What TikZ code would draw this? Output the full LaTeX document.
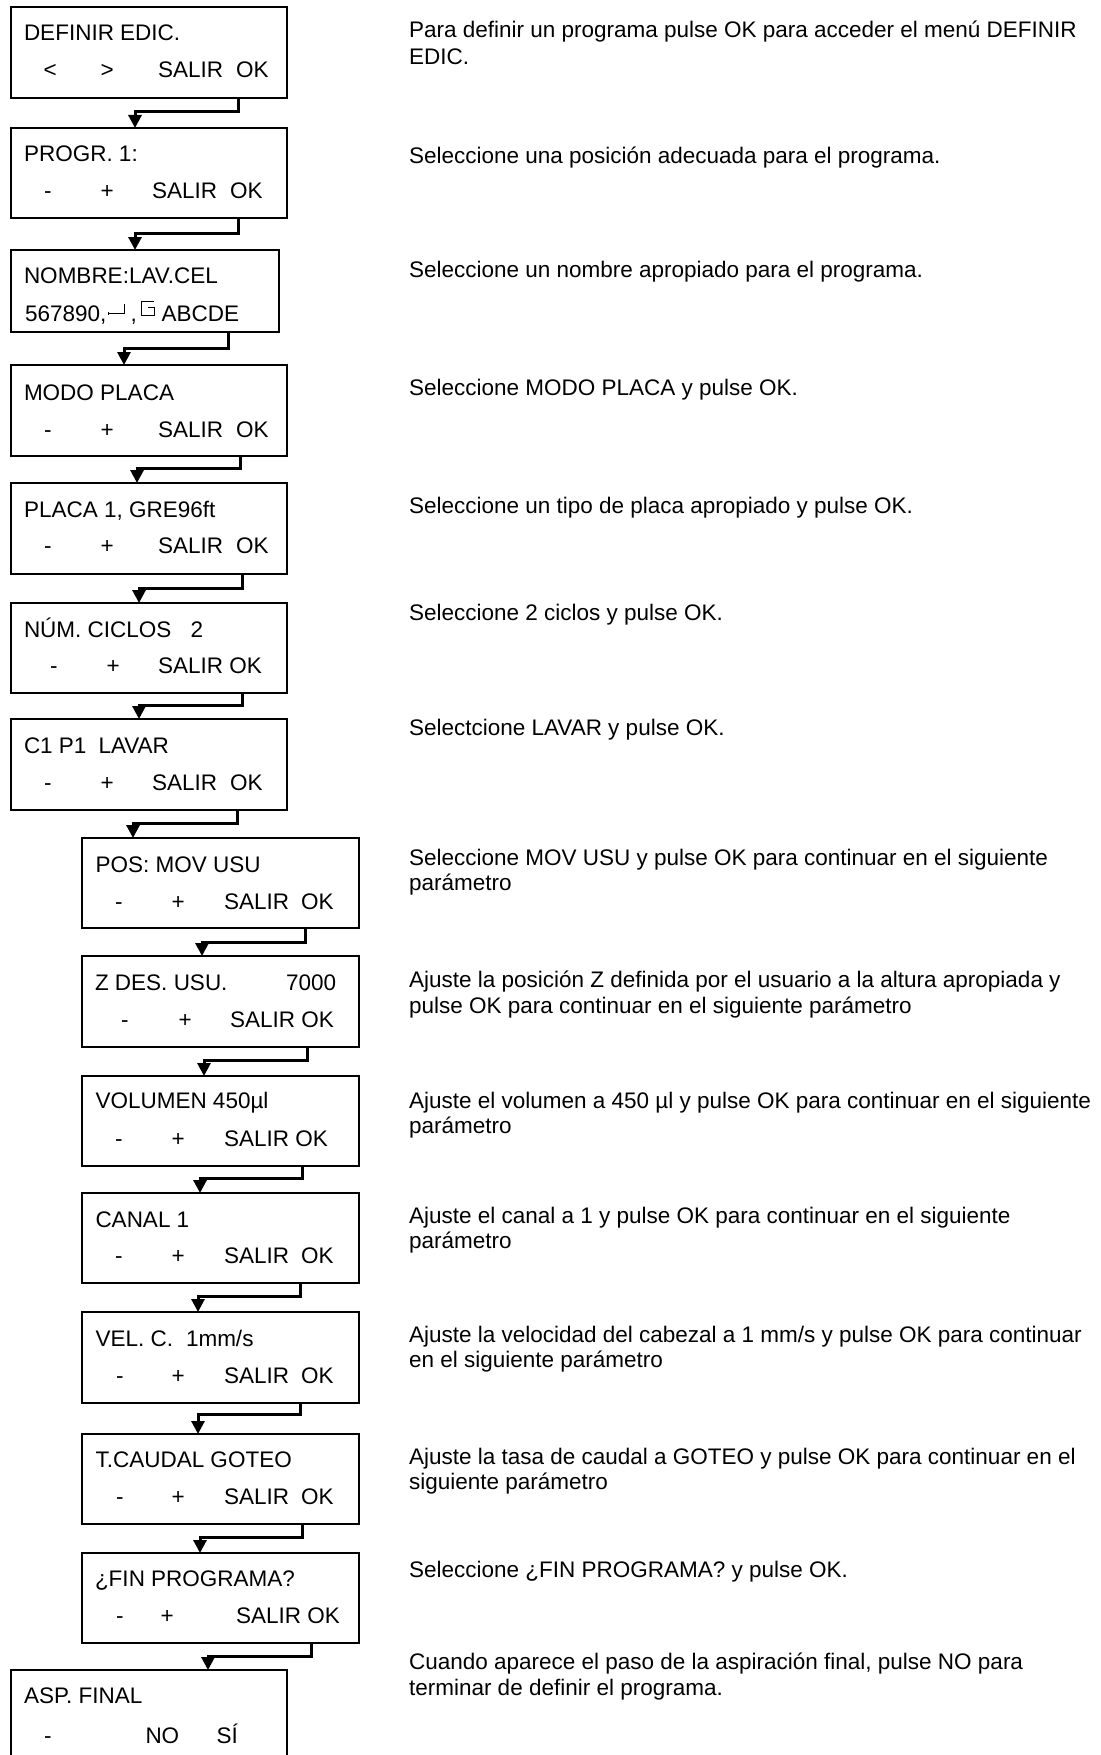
\documentclass[tikz,border=0pt]{standalone}
\usepackage{fontspec}
\setmainfont{Liberation Sans}
\usetikzlibrary{arrows.meta}
\newcommand\dfont{\fontsize{22.5pt}{26pt}\selectfont}
\begin{document}
\begin{tikzpicture}[x=1pt,y=-1pt,
  box/.style={draw=black,line width=1.2pt,rectangle,inner sep=0pt,outer sep=0pt,anchor=north west},
  wbox/.style={box,minimum width=276pt,minimum height=91pt},
  nbox/.style={box,minimum width=277pt,minimum height=90pt},
  t/.style={anchor=base west,inner sep=0pt,outer sep=0pt,font=\dfont},
  conn/.style={line width=3pt,-{Triangle[width=13pt,length=13pt]},line join=miter},
  sym/.style={line width=1pt}
]
\useasboundingbox (0,0) rectangle (1100,1755);
\clip (0,0) rectangle (1100,1755);
\fill[white] (0,0) rectangle (1100,1755);

% ---------------- boxes ----------------
\node[wbox] (b1) at (11,7) {};
\node[wbox,minimum height=90pt] (b2) at (11,128) {};
\node[box,minimum width=268pt,minimum height=82pt] (b3) at (11,250) {};
\node[wbox] (b4) at (11,365) {};
\node[wbox] (b5) at (11,483) {};
\node[wbox,minimum height=90pt] (b6) at (11,603) {};
\node[wbox] (b7) at (11,719) {};
\node[nbox] (b8) at (82,838) {};
\node[nbox,minimum height=91pt] (b9) at (82,956) {};
\node[nbox] (b10) at (82,1076) {};
\node[nbox] (b11) at (82,1193) {};
\node[nbox,minimum height=91pt] (b12) at (82,1312) {};
\node[nbox] (b13) at (82,1434) {};
\node[nbox] (b14) at (82,1553) {};
\node[wbox,minimum height=110pt] (b15) at (11,1670) {};

% ---------------- box texts ----------------
% b1
\node[t] (b1t) at (24,41) {DEFINIR EDIC.};
\node[t] (b1a) at (43.5,78) {<};
\node[t] (b1b) at (100.5,78) {>};
\node[t] (b1c) at (158,78) {SALIR};
\node[t] (b1d) at (236,78) {OK};
% b2
\node[t] (b2t) at (24,162) {PROGR. 1:};
\node[t] (b2a) at (44,198) {-};
\node[t] (b2b) at (100.5,198) {+};
\node[t] (b2c) at (152,198) {SALIR};
\node[t] (b2d) at (230,198) {OK};
% b3
\node[t] (b3t) at (24,283) {NOMBRE:LAV.CEL};
\node[t] (b3a) at (25,321) {567890,};
\draw[sym] (108,313) -- (124,313) (124,304) -- (124,314);
\draw[sym] (108.5,311.5) -- (108.5,314.5);
\node[t] (b3b) at (130.5,321) {,};
\draw[sym] (154,301) -- (141.5,301) -- (141.5,315) -- (154,315) -- (154,307.5) -- (148,307.5);
\node[t] (b3c) at (161.5,321) {ABCDE};
% b4
\node[t] (b4t) at (24,400) {MODO PLACA};
\node[t] (b4a) at (44,437) {-};
\node[t] (b4b) at (100.5,437) {+};
\node[t] (b4c) at (158,437) {SALIR};
\node[t] (b4d) at (236,437) {OK};
% b5
\node[t] (b5t) at (24,517) {PLACA 1, GRE96ft};
\node[t] (b5a) at (44,553) {-};
\node[t] (b5b) at (100.5,553) {+};
\node[t] (b5c) at (158,553) {SALIR};
\node[t] (b5d) at (236,553) {OK};
% b6
\node[t] (b6t) at (24,637) {NÚM. CICLOS};
\node[t] (b6n) at (190.5,637) {2};
\node[t] (b6a) at (50,673) {-};
\node[t] (b6b) at (106.5,673) {+};
\node[t] (b6c) at (158,673) {SALIR OK};
% b7
\node[t] (b7t) at (24,753) {C1 P1};
\node[t] (b7u) at (98.5,753) {LAVAR};
\node[t] (b7a) at (44,790) {-};
\node[t] (b7b) at (100.5,790) {+};
\node[t] (b7c) at (152,790) {SALIR};
\node[t] (b7d) at (230,790) {OK};
% b8
\node[t] (b8t) at (95.5,872) {POS: MOV USU};
\node[t] (b8a) at (115,909) {-};
\node[t] (b8b) at (171.5,909) {+};
\node[t] (b8c) at (224,909) {SALIR};
\node[t] (b8d) at (301,909) {OK};
% b9
\node[t] (b9t) at (95,990) {Z DES. USU.};
\node[t] (b9n) at (286,990) {7000};
\node[t] (b9a) at (121,1027) {-};
\node[t] (b9b) at (178.5,1027) {+};
\node[t] (b9c) at (230,1027) {SALIR OK};
% b10
\node[t] (b10t) at (95.5,1108) {VOLUMEN 450µl};
\node[t] (b10a) at (115,1146) {-};
\node[t] (b10b) at (171.5,1146) {+};
\node[t] (b10c) at (224,1146) {SALIR OK};
% b11
\node[t] (b11t) at (95.5,1227) {CANAL 1};
\node[t] (b11a) at (115,1263) {-};
\node[t] (b11b) at (171.5,1263) {+};
\node[t] (b11c) at (224,1263) {SALIR};
\node[t] (b11d) at (301,1263) {OK};
% b12
\node[t] (b12t) at (95.5,1346) {VEL. C.};
\node[t] (b12u) at (186,1346) {1mm/s};
\node[t] (b12a) at (116,1383) {-};
\node[t] (b12b) at (171.5,1383) {+};
\node[t] (b12c) at (224,1383) {SALIR};
\node[t] (b12d) at (301,1383) {OK};
% b13
\node[t] (b13t) at (95.5,1467) {T.CAUDAL GOTEO};
\node[t] (b13a) at (116,1504) {-};
\node[t] (b13b) at (171.5,1504) {+};
\node[t] (b13c) at (224,1504) {SALIR};
\node[t] (b13d) at (301,1504) {OK};
% b14
\node[t] (b14t) at (95,1586) {¿FIN PROGRAMA?};
\node[t] (b14a) at (116,1623) {-};
\node[t] (b14b) at (160.5,1623) {+};
\node[t] (b14c) at (236,1623) {SALIR OK};
% b15
\node[t] (b15t) at (24,1703) {ASP. FINAL};
\node[t] (b15a) at (44,1743) {-};
\node[t] (b15b) at (145.5,1743) {NO};
\node[t] (b15c) at (216.5,1743) {SÍ};

% ---------------- connectors ----------------
\draw[conn] ([xshift=227pt]b1.south west) -- ++(0,14) -| ([xshift=124pt]b2.north west);
\draw[conn] ([xshift=227pt]b2.south west) -- ++(0,15) -| ([xshift=124pt]b3.north west);
\draw[conn] ([xshift=217pt]b3.south west) -- ++(0,16) -| ([xshift=113pt]b4.north west);
\draw[conn] ([xshift=229pt]b4.south west) -- ++(0,12) -| ([xshift=126pt]b5.north west);
\draw[conn] ([xshift=231pt]b5.south west) -- ++(0,14) -| ([xshift=128pt]b6.north west);
\draw[conn] ([xshift=231pt]b6.south west) -- ++(0,12) -| ([xshift=128pt]b7.north west);
\draw[conn] ([xshift=226pt]b7.south west) -- ++(0,13) -| ([xshift=51pt]b8.north west);
\draw[conn] ([xshift=223pt]b8.south west) -- ++(0,14) -| ([xshift=120pt]b9.north west);
\draw[conn] ([xshift=225pt]b9.south west) -- ++(0,13) -| ([xshift=122pt]b10.north west);
\draw[conn] ([xshift=220pt]b10.south west) -- ++(0,12) -| ([xshift=118pt]b11.north west);
\draw[conn] ([xshift=218pt]b11.south west) -- ++(0,13) -| ([xshift=116pt]b12.north west);
\draw[conn] ([xshift=218pt]b12.south west) -- ++(0,11) -| ([xshift=116pt]b13.north west);
\draw[conn] ([xshift=220pt]b13.south west) -- ++(0,13) -| ([xshift=118pt]b14.north west);
\draw[conn] ([xshift=229pt]b14.south west) -- ++(0,13) -| ([xshift=197pt]b15.north west);

% ---------------- descriptions ----------------
\node[t] (r1a) at (409,38) {Para definir un programa pulse OK para acceder el menú DEFINIR};
\node[t] (r1b) at (409,64.5) {EDIC.};
\node[t] (r2) at (409,164) {Seleccione una posición adecuada para el programa.};
\node[t] (r3) at (409,277) {Seleccione un nombre apropiado para el programa.};
\node[t] (r4) at (409,395) {Seleccione MODO PLACA y pulse OK.};
\node[t] (r5) at (409,513) {Seleccione un tipo de placa apropiado y pulse OK.};
\node[t] (r6) at (409,620) {Seleccione 2 ciclos y pulse OK.};
\node[t] (r7) at (409,735) {Selectcione LAVAR y pulse OK.};
\node[t] (r8a) at (409,865) {Seleccione MOV USU y pulse OK para continuar en el siguiente};
\node[t] (r8b) at (409,890.5) {parámetro};
\node[t] (r9a) at (409,987) {Ajuste la posición Z definida por el usuario a la altura apropiada y};
\node[t] (r9b) at (409,1013) {pulse OK para continuar en el siguiente parámetro};
\node[t] (r10a) at (409,1108) {Ajuste el volumen a 450 µl y pulse OK para continuar en el siguiente};
\node[t] (r10b) at (409,1133.5) {parámetro};
\node[t] (r11a) at (409,1223) {Ajuste el canal a 1 y pulse OK para continuar en el siguiente};
\node[t] (r11b) at (409,1248.5) {parámetro};
\node[t] (r12a) at (409,1342) {Ajuste la velocidad del cabezal a 1 mm/s y pulse OK para continuar};
\node[t] (r12b) at (409,1367.5) {en el siguiente parámetro};
\node[t] (r13a) at (409,1464) {Ajuste la tasa de caudal a GOTEO y pulse OK para continuar en el};
\node[t] (r13b) at (409,1489.5) {siguiente parámetro};
\node[t] (r14) at (409,1577) {Seleccione ¿FIN PROGRAMA? y pulse OK.};
\node[t] (r15a) at (409,1669) {Cuando aparece el paso de la aspiración final, pulse NO para};
\node[t] (r15b) at (409,1695) {terminar de definir el programa.};
\end{tikzpicture}
\end{document}
